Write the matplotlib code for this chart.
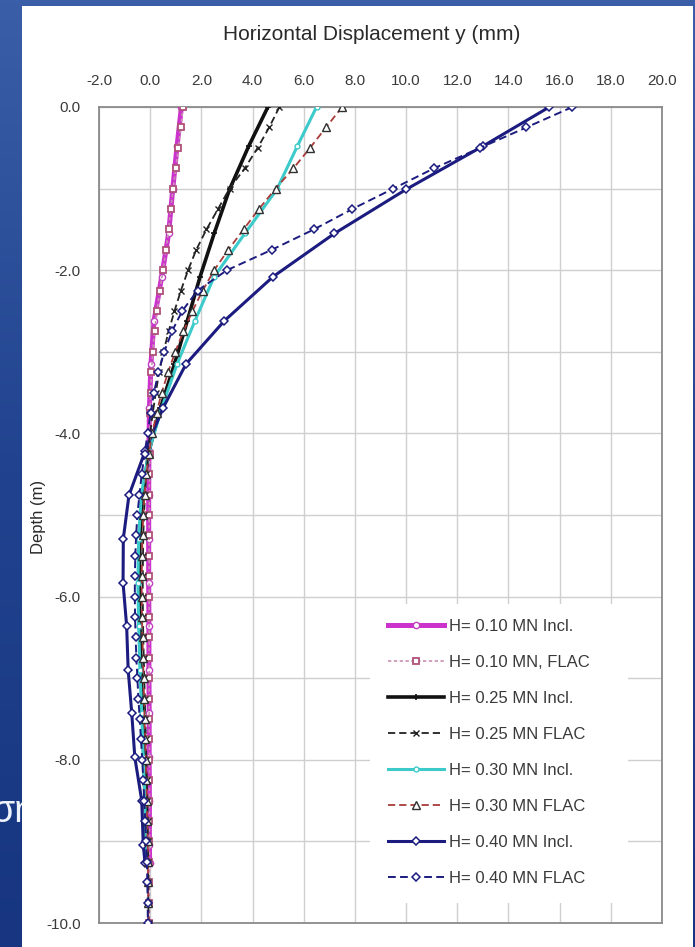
import numpy as np
import matplotlib
matplotlib.use("Agg")
import matplotlib.pyplot as plt
from matplotlib.patches import Rectangle
from matplotlib.ticker import FormatStrFormatter, MultipleLocator
from matplotlib.colors import LinearSegmentedColormap

plt.rcParams['font.family'] = ['Liberation Sans', 'DejaVu Sans']
plt.rcParams['axes.unicode_minus'] = False

# ---- data -------------------------------------------------------------
# inclinometer reading depths (m)
incl_depth = [0.0, -0.48, -1.01, -1.55, -2.08, -2.62, -3.15, -3.69, -4.22, -4.76,
              -5.29, -5.83, -6.36, -6.90, -7.43, -7.97, -8.50, -9.04, -9.27]
# FLAC output depths (m)
flac_depth = [0.0, -0.25, -0.5, -0.75, -1.0, -1.25, -1.5, -1.75, -2.0, -2.25,
              -2.5, -2.75, -3.0, -3.25, -3.5, -3.75, -4.0, -4.25, -4.5, -4.75,
              -5.0, -5.25, -5.5, -5.75, -6.0, -6.25, -6.5, -6.75, -7.0, -7.25,
              -7.5, -7.75, -8.0, -8.25, -8.5, -8.75, -9.0, -9.25, -9.5, -9.75, -10.0]

incl_010 = [1.22, 1.05, 0.88, 0.72, 0.45, 0.15, 0.03, -0.03, -0.05, -0.06,
            -0.06, -0.06, -0.05, -0.05, -0.04, -0.04, -0.03, -0.03, -0.02]
flac_010 = [1.28, 1.2, 1.1, 1.0, 0.9, 0.8, 0.72, 0.62, 0.5, 0.38,
            0.26, 0.17, 0.1, 0.05, 0.02, 0.0, -0.01, -0.02, -0.03, -0.03,
            -0.04, -0.04, -0.04, -0.04, -0.04, -0.04, -0.04, -0.04, -0.04, -0.04,
            -0.04, -0.03, -0.03, -0.03, -0.03, -0.03, -0.03, -0.03, -0.03, -0.03, -0.03]

incl_025 = [4.6, 3.85, 3.1, 2.5, 1.95, 1.45, 0.95, 0.4, -0.05, -0.3,
            -0.4, -0.42, -0.4, -0.36, -0.3, -0.25, -0.2, -0.15, -0.12]
flac_025 = [5.05, 4.65, 4.2, 3.7, 3.1, 2.65, 2.2, 1.8, 1.48, 1.2,
            0.95, 0.72, 0.52, 0.35, 0.22, 0.1, 0.0, -0.08, -0.15, -0.2,
            -0.24, -0.27, -0.28, -0.29, -0.29, -0.28, -0.27, -0.25, -0.23, -0.21,
            -0.19, -0.17, -0.15, -0.13, -0.11, -0.1, -0.09, -0.08, -0.07, -0.07, -0.06]

incl_030 = [6.5, 5.75, 4.95, 3.7, 2.5, 1.75, 1.05, 0.45, -0.05, -0.35,
            -0.45, -0.48, -0.45, -0.4, -0.33, -0.27, -0.2, -0.15, -0.12]
flac_030 = [7.5, 6.87, 6.25, 5.6, 4.9, 4.25, 3.65, 3.05, 2.5, 2.05,
            1.65, 1.3, 0.98, 0.7, 0.45, 0.25, 0.08, -0.05, -0.15, -0.22,
            -0.27, -0.3, -0.32, -0.33, -0.33, -0.32, -0.3, -0.28, -0.26, -0.24,
            -0.22, -0.19, -0.17, -0.15, -0.13, -0.12, -0.1, -0.09, -0.08, -0.08, -0.07]

incl_040 = [15.6, 13.0, 10.0, 7.2, 4.8, 2.9, 1.4, 0.5, -0.2, -0.83,
            -1.05, -1.06, -0.92, -0.86, -0.72, -0.6, -0.33, -0.27, -0.2]
flac_040 = [16.5, 14.7, 12.9, 11.1, 9.5, 7.9, 6.4, 4.75, 3.0, 1.85,
            1.25, 0.85, 0.55, 0.32, 0.15, 0.02, -0.1, -0.22, -0.33, -0.42,
            -0.5, -0.55, -0.58, -0.6, -0.6, -0.59, -0.57, -0.54, -0.5, -0.46,
            -0.41, -0.36, -0.31, -0.27, -0.23, -0.19, -0.16, -0.13, -0.11, -0.1, -0.09]

labels = ["H= 0.10 MN Incl.", "H= 0.10 MN, FLAC",
          "H= 0.25 MN Incl.", "H= 0.25 MN FLAC",
          "H= 0.30 MN Incl.", "H= 0.30 MN FLAC",
          "H= 0.40 MN Incl.", "H= 0.40 MN FLAC"]

x_ticks = [-2.0, 0.0, 2.0, 4.0, 6.0, 8.0, 10.0, 12.0, 14.0, 16.0, 18.0, 20.0]
y_ticks = [0.0, -2.0, -4.0, -6.0, -8.0, -10.0]

# ---- figure & slide background ---------------------------------------
W, H = 695, 947
fig = plt.figure(figsize=(W / 100, H / 100), dpi=100)

bg = fig.add_axes([0, 0, 1, 1], zorder=0)
bg.set_axis_off()
grad = np.linspace(0, 1, 256).reshape(-1, 1)
cmap = LinearSegmentedColormap.from_list("slide", ["#3a5ea8", "#21438f", "#173580"])
bg.imshow(grad, aspect="auto", cmap=cmap, extent=[0, 1, 0, 1], origin="upper")
bg.set_xlim(0, 1)
bg.set_ylim(0, 1)
bg.text(-0.012, 1 - 822 / H, "ση", fontsize=27, color="#eef2fa",
        ha="left", va="baseline", transform=bg.transAxes)
bg.add_patch(Rectangle((22 / W, 0), (693 - 22) / W, 1 - 6 / H,
                       transform=bg.transAxes, facecolor="white",
                       edgecolor="none", zorder=5))

# ---- chart axes -------------------------------------------------------
x0, x1, y0, y1 = 99, 662, 107, 923
ax = fig.add_axes([x0 / W, 1 - y1 / H, (x1 - x0) / W, (y1 - y0) / H], zorder=1)
ax.set_xlim(-2, 20)
ax.set_ylim(-10, 0)

ax.xaxis.tick_top()
ax.set_xticks(x_ticks)
ax.set_yticks(y_ticks)
ax.yaxis.set_minor_locator(MultipleLocator(1.0))
ax.xaxis.set_major_formatter(FormatStrFormatter("%.1f"))
ax.yaxis.set_major_formatter(FormatStrFormatter("%.1f"))
ax.tick_params(axis="x", which="both", length=0, pad=14, labelsize=11,
               labelcolor="#3a3a3a")
ax.tick_params(axis="y", which="both", length=0, pad=13, labelsize=11,
               labelcolor="#3a3a3a")
ax.grid(True, which="both", color="#cfcfcf", linewidth=1.0)
ax.set_axisbelow(True)
for s in ax.spines.values():
    s.set_color("#8a8a8a")
    s.set_linewidth(1.3)

fig.text(372 / W, 1 - 35 / H, "Horizontal Displacement y (mm)", fontsize=15,
         color="#2a2a2a", ha="center", va="center")
fig.text(38 / W, 1 - 517 / H, "Depth (m)", fontsize=12, color="#2a2a2a",
         rotation=90, ha="center", va="center")

dash = (0, (4, 2.2))

h = []
h += ax.plot(incl_010, incl_depth, color="#cc33cc", lw=3.6, marker="o", ms=4.5,
             mfc="white", mec="#c040c0", mew=1.0, zorder=4)
h += ax.plot(flac_010, flac_depth, color="#c890b0", lw=1.2, ls=(0, (2, 1.5)),
             marker="s", ms=5, mfc="white", mec="#b0507a", mew=1.3, zorder=5)
h += ax.plot(incl_025, incl_depth, color="#111111", lw=2.6, marker="+", ms=5,
             mec="#111111", mew=1.2, zorder=4)
h += ax.plot(flac_025, flac_depth, color="#222222", lw=1.3, ls=dash,
             marker="x", ms=4, mec="#222222", mew=1.0, zorder=5)
h += ax.plot(incl_030, incl_depth, color="#3ccaca", lw=2.2, marker="o", ms=3.5,
             mfc="white", mec="#3ccaca", mew=1.0, zorder=4)
h += ax.plot(flac_030, flac_depth, color="#a83a3a", lw=1.3, ls=dash,
             marker="^", ms=5.5, mfc="white", mec="#303030", mew=1.0, zorder=5)
h += ax.plot(incl_040, incl_depth, color="#1c1c80", lw=2.2, marker="D", ms=4,
             mfc="white", mec="#1c1c80", mew=1.1, zorder=4)
h += ax.plot(flac_040, flac_depth, color="#1c1c80", lw=1.4, ls=dash,
             marker="D", ms=4, mfc="white", mec="#1c1c80", mew=1.1, zorder=5)

# white panel behind the legend
ax.add_patch(Rectangle((0.482, 0.0245), 0.458, 0.366, transform=ax.transAxes,
                       facecolor="white", edgecolor="none", zorder=2))
leg = ax.legend(h, labels, loc="upper left", bbox_to_anchor=(0.513, 0.373),
                frameon=False, fontsize=12, handlelength=3.4, handletextpad=0.25,
                labelspacing=1.26, borderpad=0, borderaxespad=0, numpoints=1)
for t in leg.get_texts():
    t.set_color("#3a3a3a")
leg.set_zorder(6)

fig.savefig("out.png", dpi=100)
